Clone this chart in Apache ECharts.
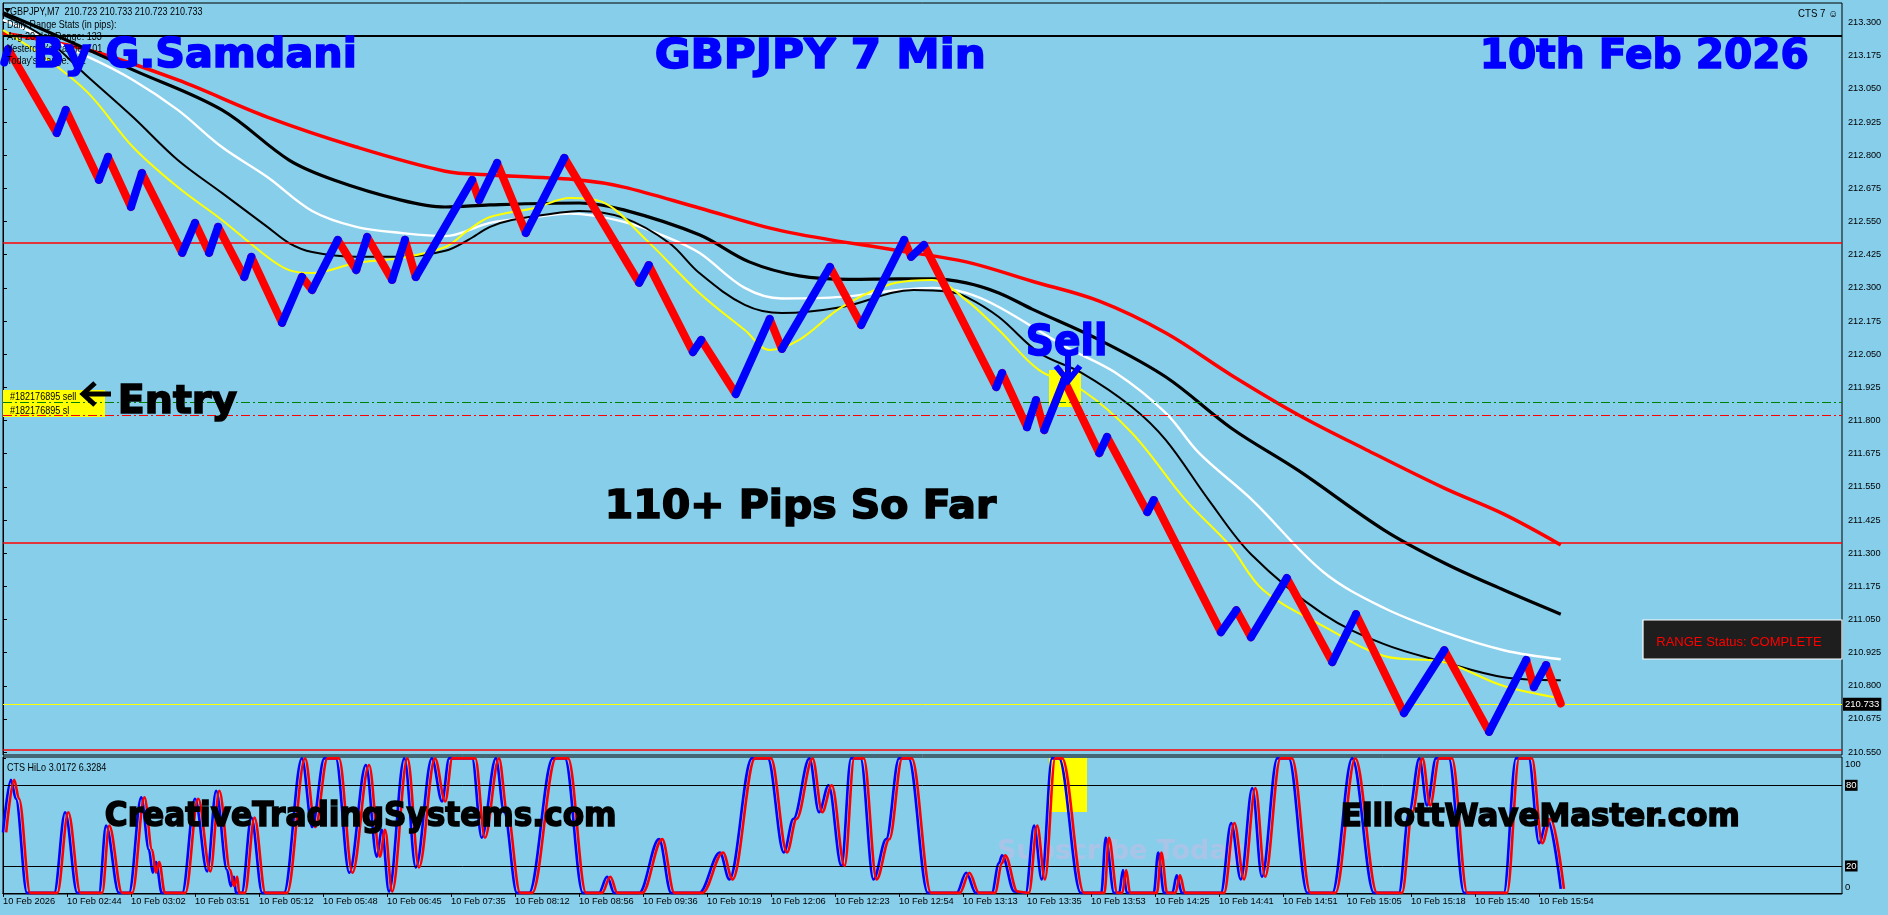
<!DOCTYPE html>
<html>
<head>
<meta charset="utf-8">
<title>GBPJPY 7 Min</title>
<script src="https://cdn.jsdelivr.net/npm/echarts@6.0.0/dist/echarts.min.js"></script>
<style>
html,body{margin:0;padding:0;background:#87CEEB;overflow:hidden;}
#c{width:1888px;height:915px;}
</style>
</head>
<body>
<div id="c"></div>
<script>
// ---------------- DATA ----------------
const timeLabels = ['10 Feb 2026','10 Feb 02:44','10 Feb 03:02','10 Feb 03:51','10 Feb 05:12','10 Feb 05:48',
  '10 Feb 06:45','10 Feb 07:35','10 Feb 08:12','10 Feb 08:56','10 Feb 09:36','10 Feb 10:19','10 Feb 12:06',
  '10 Feb 12:23','10 Feb 12:54','10 Feb 13:13','10 Feb 13:35','10 Feb 13:53','10 Feb 14:25','10 Feb 14:41',
  '10 Feb 14:51','10 Feb 15:05','10 Feb 15:18','10 Feb 15:40','10 Feb 15:54'];
const timeSlots = timeLabels.map((_, i) => i);

const priceTicks = [213.300,213.175,213.050,212.925,212.800,212.675,212.550,212.425,212.300,212.175,212.050,
  211.925,211.800,211.675,211.550,211.425,211.300,211.175,211.050,210.925,210.800,210.675,210.550];
const priceMin = 210.539, priceMax = 213.374;

// price (renko) path pivots: [time slot, price]
const pricePath = [[0.02,213.150],[0.08,213.200],[0.84,212.884],[0.98,212.971],[1.50,212.707],[1.64,212.794],
  [2.00,212.605],[2.17,212.733],[2.80,212.432],[3.00,212.545],[3.22,212.432],[3.36,212.530],[3.77,212.341],
  [3.88,212.417],[4.36,212.168],[4.67,212.341],[4.83,212.292],[5.23,212.481],[5.52,212.367],[5.69,212.492],
  [6.08,212.330],[6.28,212.481],[6.45,212.341],[7.33,212.707],[7.44,212.631],[7.72,212.771],[8.17,212.507],
  [8.77,212.790],[9.94,212.319],[10.09,212.386],[10.78,212.058],[10.91,212.104],[11.45,211.900],[11.98,212.183],
  [12.17,212.070],[12.92,212.379],[13.41,212.160],[14.08,212.481],[14.19,212.417],[14.39,212.462],[15.52,211.926],
  [15.61,211.979],[16.00,211.775],[16.14,211.877],[16.27,211.764],[16.58,211.952],[17.13,211.677],[17.25,211.738],
  [17.88,211.455],[17.98,211.500],[19.03,211.002],[19.27,211.085],[19.50,210.983],[20.06,211.206],[20.77,210.889],
  [21.14,211.070],[21.89,210.697],[22.52,210.934],[23.22,210.626],[23.80,210.897],[23.92,210.795],[24.11,210.878],
  [24.34,210.733]];

const maRed = [[0,213.261],[1.33,213.197],[2.73,213.084],[4.13,212.944],[5.52,212.831],[6.91,212.740],[7.61,212.726],
  [9.00,212.707],[9.70,212.680],[10.88,212.601],[12.17,212.515],[14.00,212.440],[15.05,212.398],
  [16.08,212.325],[17.13,212.250],[18.17,212.130],[19.20,211.970],[20.25,211.820],[21.30,211.690],
  [22.52,211.545],[23.45,211.447],[24.34,211.331]];
const maBlackThick = [[0,213.337],[0.64,213.272],[2.03,213.122],[3.42,212.971],[4.47,212.782],[5.17,212.707],
  [6.22,212.631],[6.91,212.605],[7.61,212.613],[9.00,212.620],[9.70,212.594],[10.88,212.500],
  [11.66,212.398],[12.44,212.345],[13.22,212.332],[14.00,212.334],[14.52,212.334],[15.05,212.319],[15.56,212.281],
  [16.08,212.220],[17.13,212.104],[18.17,211.964],[19.20,211.770],[20.25,211.610],[21.58,211.387],
  [22.52,211.263],[23.45,211.161],[24.34,211.070]];
const maWhite = [[0,213.310],[1.33,213.171],[2.03,213.084],[2.73,212.971],[3.42,212.831],[4.13,212.718],[4.83,212.590],
  [5.52,212.530],[6.22,212.507],[6.91,212.495],[7.61,212.545],[8.31,212.567],[8.86,212.580],[9.70,212.549],
  [10.41,212.488],[10.88,212.432],[11.59,212.300],[12.17,212.260],[13.11,212.266],[14.00,212.292],[14.52,212.300],
  [15.05,212.281],[15.56,212.228],[16.61,212.077],[17.39,211.979],[18.17,211.828],[18.69,211.677],[19.52,211.500],
  [20.63,211.229],[21.58,211.093],[22.52,211.002],[23.45,210.934],[24.34,210.900]];
const maBlackThin = [[0,213.329],[0.64,213.246],[1.33,213.095],[2.03,212.944],[2.73,212.782],[3.42,212.658],
  [4.13,212.530],[4.47,212.469],[4.83,212.435],[5.52,212.417],[6.22,212.417],[6.91,212.440],[7.27,212.481],
  [7.61,212.530],[7.95,212.556],[8.66,212.582],[9.00,212.590],[9.70,212.564],[10.41,212.469],[10.88,212.356],
  [11.59,212.236],[12.17,212.205],[13.11,212.228],[14.23,212.292],[14.78,212.285],[15.05,212.266],[15.56,212.190],
  [16.19,212.055],[16.86,211.979],[17.64,211.851],[18.17,211.726],[18.84,211.500],[19.50,211.296],[20.63,211.070],
  [21.58,210.957],[22.52,210.889],[23.45,210.832],[24.34,210.821]];
const maYellow = [[0,213.272],[0.64,213.171],[1.33,213.035],[2.03,212.831],[2.73,212.680],[3.42,212.556],
  [4.13,212.417],[4.47,212.367],[4.83,212.356],[5.52,212.394],[6.22,212.413],[6.91,212.454],[7.27,212.518],
  [7.61,212.567],[8.31,212.601],[8.86,212.639],[9.36,212.624],[10.05,212.481],[10.88,212.281],[11.59,212.141],
  [11.98,212.066],[12.44,212.104],[13.11,212.228],[13.95,212.319],[14.52,212.330],[15.05,212.254],[15.56,212.141],
  [16.19,211.990],[16.86,211.915],[17.64,211.753],[18.48,211.500],[19.16,211.331],[19.69,211.161],[20.63,211.025],
  [21.58,210.912],[22.52,210.889],[23.45,210.799],[24.34,210.753]];

// horizontal levels
const levelBlack = 213.250;
const levelsRed = [212.470, 211.338, 210.564];
const entryLevel = 211.869;
const stopLevel = 211.816;
const bidPrice = 210.733;

// CTS HiLo oscillator (blue main line): [time slot, value]
const hiloBlue = [[0,45],[0.125,84],[0.2,70],[0.375,0],[0.8,0],[0.97,60],[1.16,0],[1.5,0],[1.61,50],[1.81,0],
  [1.97,0],[2.16,71],[2.28,32],[2.34,15],[2.39,23],[2.48,0],[2.8,0],[3.0,70],[3.19,16],[3.33,76],[3.5,17],[3.56,5],
  [3.61,12],[3.64,0],[3.73,0],[3.88,56],[4.05,0],[4.39,0],[4.67,100],[4.83,49],[5.02,100],[5.2,100],[5.41,15],
  [5.67,95],[5.84,27],[5.92,47],[6.03,1],[6.27,100],[6.45,19],[6.7,100],[6.86,68],[6.97,100],[7.33,100],[7.48,41],
  [7.7,100],[7.83,60],[8.03,0],[8.22,0],[8.59,100],[8.78,100],[9.06,0],[9.31,0],[9.44,12],[9.55,0],[9.94,0],
  [10.25,40],[10.44,0],[10.88,0],[11.2,30],[11.35,10],[11.7,100],[11.95,100],[12.2,30],[12.35,55],[12.6,100],
  [12.75,60],[12.9,80],[13.1,20],[13.25,100],[13.4,100],[13.6,10],[13.8,40],[14.0,100],[14.15,100],[14.45,0],
  [14.9,0],[15.05,15],[15.2,0],[15.45,0],[15.56,22],[15.61,28],[15.8,1],[15.98,0],[16.11,50],[16.23,10],[16.39,100],
  [16.5,100],[16.84,0],[17.16,0],[17.23,41],[17.36,0],[17.44,0],[17.5,17],[17.56,0],[17.98,0],[18.05,30],[18.14,0],
  [18.27,0],[18.34,13],[18.42,0],[19.03,0],[19.19,52],[19.34,10],[19.52,78],[19.67,12],[19.91,100],[20.09,100],
  [20.38,0],[20.77,0],[21.08,100],[21.42,0],[21.81,0],[21.97,60],[22.13,100],[22.25,65],[22.39,100],[22.59,100],
  [22.83,0],[23.45,0],[23.64,100],[23.84,100],[24.0,37],[24.13,55],[24.34,3]];
const hiloLag = 0.05;       // red signal line trails the blue line
const hiloTicks = [0, 20, 80, 100];
const hiloLevels = [20, 80];

// ---------------- LAYOUT / FONTS ----------------
const meas = document.createElement('canvas').getContext('2d');
const SF = 'Liberation Sans';
const SS = 9;
const X_MAX = 1839 / 64;

function bigText(t, x0, x1, capTop, base, color, z) {
  const size = (base - capTop) / 0.729;
  meas.font = 'bold ' + size.toFixed(1) + 'px "DejaVu Sans"';
  const w = meas.measureText(t).width + 1.6;
  return {type: 'text', x: x0 + 0.8, y: base - 0.171 * size, scaleX: (x1 - x0) / w, z: z || 60,
    style: {text: t, fontFamily: 'DejaVu Sans', fontWeight: 'bold', fontSize: size, fill: color,
      stroke: color, lineWidth: 1.6, align: 'left', verticalAlign: 'middle'}};
}
function smallText(t, x, y, extra, sx) {
  return {type: 'text', x: x, y: y + 1, z: 55, scaleX: sx || 0.86,
    style: Object.assign({text: t, fontFamily: SF, fontSize: 10.5, fill: '#000', align: 'left', verticalAlign: 'middle'}, extra || {})};
}

// price path split into rising (blue) and falling (red) legs
const upLegs = [], downLegs = [];
for (let i = 1; i < pricePath.length; i++) {
  const a = pricePath[i - 1], b = pricePath[i];
  (b[1] >= a[1] ? upLegs : downLegs).push({coords: [a, b]});
}
const hiloRed = hiloBlue.map(p => [p[0] + hiloLag, p[1]]);

function maSeries(name, data, color, width, extra) {
  return Object.assign({name: name, type: 'line', xAxisIndex: 0, yAxisIndex: 0, data: data, showSymbol: false,
    symbol: 'none', smooth: 0.35, lineStyle: {color: color, width: width}, z: 3, silent: true}, extra || {});
}

const dashDot = [9, 3, 2, 3];
const mainLevels = [
  {yAxis: levelBlack, lineStyle: {color: '#000000', width: 2, type: 'solid'}},
  ...levelsRed.map(v => ({yAxis: v, lineStyle: {color: '#ff0000', width: 1.6, type: 'solid'}})),
  {yAxis: entryLevel, lineStyle: {color: '#008000', width: 1, type: dashDot}},
  {yAxis: stopLevel, lineStyle: {color: '#ff0000', width: 1, type: dashDot}},
  {yAxis: bidPrice, lineStyle: {color: '#ffff00', width: 1, type: 'solid'},
    label: {show: true, position: 'end', distance: 1, formatter: bidPrice.toFixed(3), backgroundColor: '#000',
      color: '#fff', padding: [2, 2, 1, 2], fontFamily: SF, fontSize: 9.5}}
];

const option = {
  animation: false,
  backgroundColor: '#87CEEB',
  grid: [
    {left: 3, top: 3, width: 1839, height: 752, show: true, borderColor: '#000', borderWidth: 1,
      backgroundColor: 'transparent', containLabel: false, outerBoundsMode: 'none'},
    {left: 3, top: 757, width: 1839, height: 137, show: true, borderColor: '#000', borderWidth: 1,
      backgroundColor: 'transparent', containLabel: false, outerBoundsMode: 'none'}
  ],
  xAxis: [
    {type: 'value', gridIndex: 0, min: 0, max: X_MAX, show: false},
    {type: 'value', gridIndex: 1, min: 0, max: X_MAX,
      axisLine: {show: true, lineStyle: {color: '#000', width: 1}},
      axisTick: {show: true, customValues: timeSlots, length: 4, inside: false, lineStyle: {color: '#000'}},
      axisLabel: {show: true, customValues: timeSlots, formatter: v => timeLabels[Math.round(v)] || '',
        align: 'left', margin: 3, color: '#000', fontFamily: SF, fontSize: 9.3},
      splitLine: {show: false}}
  ],
  yAxis: [
    {type: 'value', gridIndex: 0, position: 'right', min: priceMin, max: priceMax,
      axisLine: {show: true, lineStyle: {color: '#000', width: 1}},
      axisTick: {show: true, customValues: priceTicks, length: 4, inside: false, lineStyle: {color: '#000'}},
      axisLabel: {show: true, customValues: priceTicks, formatter: v => v.toFixed(3), margin: 6, color: '#000',
        fontFamily: SF, fontSize: 9.2},
      splitLine: {show: false}},
    {type: 'value', gridIndex: 1, position: 'right', min: -0.82, max: 101.04,
      axisLine: {show: true, lineStyle: {color: '#000', width: 1}},
      axisTick: {show: true, customValues: hiloTicks, length: 3, inside: false, lineStyle: {color: '#000'}},
      axisLabel: {show: true, customValues: hiloTicks, margin: 3, color: '#000', fontFamily: SF, fontSize: 9.5,
        formatter: v => v === 100 ? '{t|100}' : (v === 0 ? '{z|0}' : '{b|' + v + '}'),
        rich: {
          t: {padding: [12, 0, 0, 0], color: '#000', fontFamily: SF, fontSize: 9.5},
          z: {padding: [0, 0, 12, 0], color: '#000', fontFamily: SF, fontSize: 9.5},
          b: {backgroundColor: '#000', color: '#fff', padding: [1, 1, 0, 1], fontFamily: SF, fontSize: 9.5}
        }},
      splitLine: {show: false}}
  ],
  series: [
    maSeries('MA red', maRed, '#ff0000', 3.5, {
      markLine: {silent: true, symbol: ['none', 'none'], label: {show: false}, emphasis: {disabled: true},
        data: mainLevels}}),
    maSeries('MA black slow', maBlackThick, '#000000', 3.2),
    maSeries('MA white', maWhite, '#ffffff', 2.4),
    maSeries('MA black fast', maBlackThin, '#000000', 2),
    maSeries('MA yellow', maYellow, '#ffff00', 2),
    {name: 'Down bricks', type: 'lines', coordinateSystem: 'cartesian2d', xAxisIndex: 0, yAxisIndex: 0,
      data: downLegs, silent: true, z: 5,
      lineStyle: {color: '#ff0000', width: 8, opacity: 1, cap: 'round'}},
    {name: 'Up bricks', type: 'lines', coordinateSystem: 'cartesian2d', xAxisIndex: 0, yAxisIndex: 0,
      data: upLegs, silent: true, z: 6,
      lineStyle: {color: '#0000ff', width: 8, opacity: 1, cap: 'round'}},
    {name: 'HiLo', type: 'line', xAxisIndex: 1, yAxisIndex: 1, data: hiloBlue, showSymbol: false, symbol: 'none',
      smooth: 0.35, smoothMonotone: 'x', lineStyle: {color: '#0000ff', width: 2.6}, z: 4, silent: true,
      markLine: {silent: true, symbol: ['none', 'none'], label: {show: false}, emphasis: {disabled: true},
        data: hiloLevels.map(v => ({yAxis: v, lineStyle: {color: '#000', width: 1, type: 'solid'}}))}},
    {name: 'HiLo signal', type: 'line', xAxisIndex: 1, yAxisIndex: 1, data: hiloRed, showSymbol: false, symbol: 'none',
      smooth: 0.35, smoothMonotone: 'x', lineStyle: {color: '#ff0000', width: 2.6}, z: 5, silent: true}
  ],
  graphic: {elements: [
    // low layer decorations
    {type: 'rect', z: 1, shape: {x: 1049, y: 370, width: 32, height: 37}, style: {fill: '#ffff00'}},
    {type: 'rect', z: 1, shape: {x: 1049, y: 758, width: 38, height: 54}, style: {fill: '#ffff00'}},
    {type: 'rect', z: 1, shape: {x: 3, y: 390, width: 102, height: 27}, style: {fill: '#ffff00'}},
    {type: 'text', z: 1, x: 997, y: 852, style: {text: 'Subscribe Today', fontFamily: 'DejaVu Sans', fontWeight: 'bold',
      fontSize: 27, fill: '#aac4e8', align: 'left', verticalAlign: 'middle'}},
    // header info
    {type: 'polygon', z: 56, shape: {points: [[4, 8], [11, 8], [7.5, 13]]}, style: {fill: '#000'}},
    smallText('GBPJPY,M7  210.723 210.733 210.723 210.733', 10, 11),
    smallText('Daily Range Stats (in pips):', 7, 24),
    smallText('Avg 20-day Range: 133', 7, 36),
    smallText("Yesterday's Range: 101", 7, 48),
    smallText("Today's Range: 311", 7, 60),
    smallText('CTS 7 \u263A', 1838, 13, {align: 'right'}, 0.92),
    smallText('CTS HiLo 3.0172 6.3284', 7, 767),
    smallText('#182176895 sell', 10, 396),
    smallText('#182176895 sl', 10, 410.5),
    // entry arrow
    {type: 'polyline', z: 60, shape: {points: [[84, 394], [111, 394]]}, style: {stroke: '#000', lineWidth: 5}},
    {type: 'polyline', z: 60, shape: {points: [[95, 383], [83, 394], [95, 405]]}, style: {stroke: '#000', lineWidth: 5, lineJoin: 'miter', fill: null}},
    // sell arrow
    {type: 'polyline', z: 60, shape: {points: [[1068, 352], [1068, 381]]}, style: {stroke: '#0000ff', lineWidth: 6}},
    {type: 'polyline', z: 60, shape: {points: [[1056, 366], [1068, 381], [1080, 366]]}, style: {stroke: '#0000ff', lineWidth: 6, lineJoin: 'miter', fill: null}},
    // range status box
    {type: 'rect', z: 58, shape: {x: 1643, y: 620, width: 199, height: 39}, style: {fill: '#1e1e1e', stroke: '#ffffff', lineWidth: 1.2}},
    {type: 'text', z: 59, x: 1739, y: 642, style: {text: 'RANGE Status: COMPLETE', fontFamily: 'Liberation Sans', fontSize: 13,
      fill: '#ff0000', align: 'center', verticalAlign: 'middle'}},
    // big captions
    bigText('By G.Samdani', 32, 358, 33, 63, '#0000ff'),
    bigText('GBPJPY 7 Min', 654, 987, 34, 64, '#0000ff'),
    bigText('10th Feb 2026', 1479, 1810, 34, 64, '#0000ff'),
    bigText('Entry', 117, 238, 380, 409, '#000000'),
    bigText('Sell', 1025, 1108, 320, 351, '#0000ff'),
    bigText('110+ Pips So Far', 604, 997, 487, 515, '#000000'),
    bigText('CreativeTradingSystems.com', 104, 617, 799, 823, '#000000'),
    bigText('ElliottWaveMaster.com', 1340, 1741, 800, 823, '#000000')
  ]}
};

const chart = echarts.init(document.getElementById('c'), null, {renderer: 'canvas', width: 1888, height: 915});
chart.setOption(option);
</script>
</body>
</html>
